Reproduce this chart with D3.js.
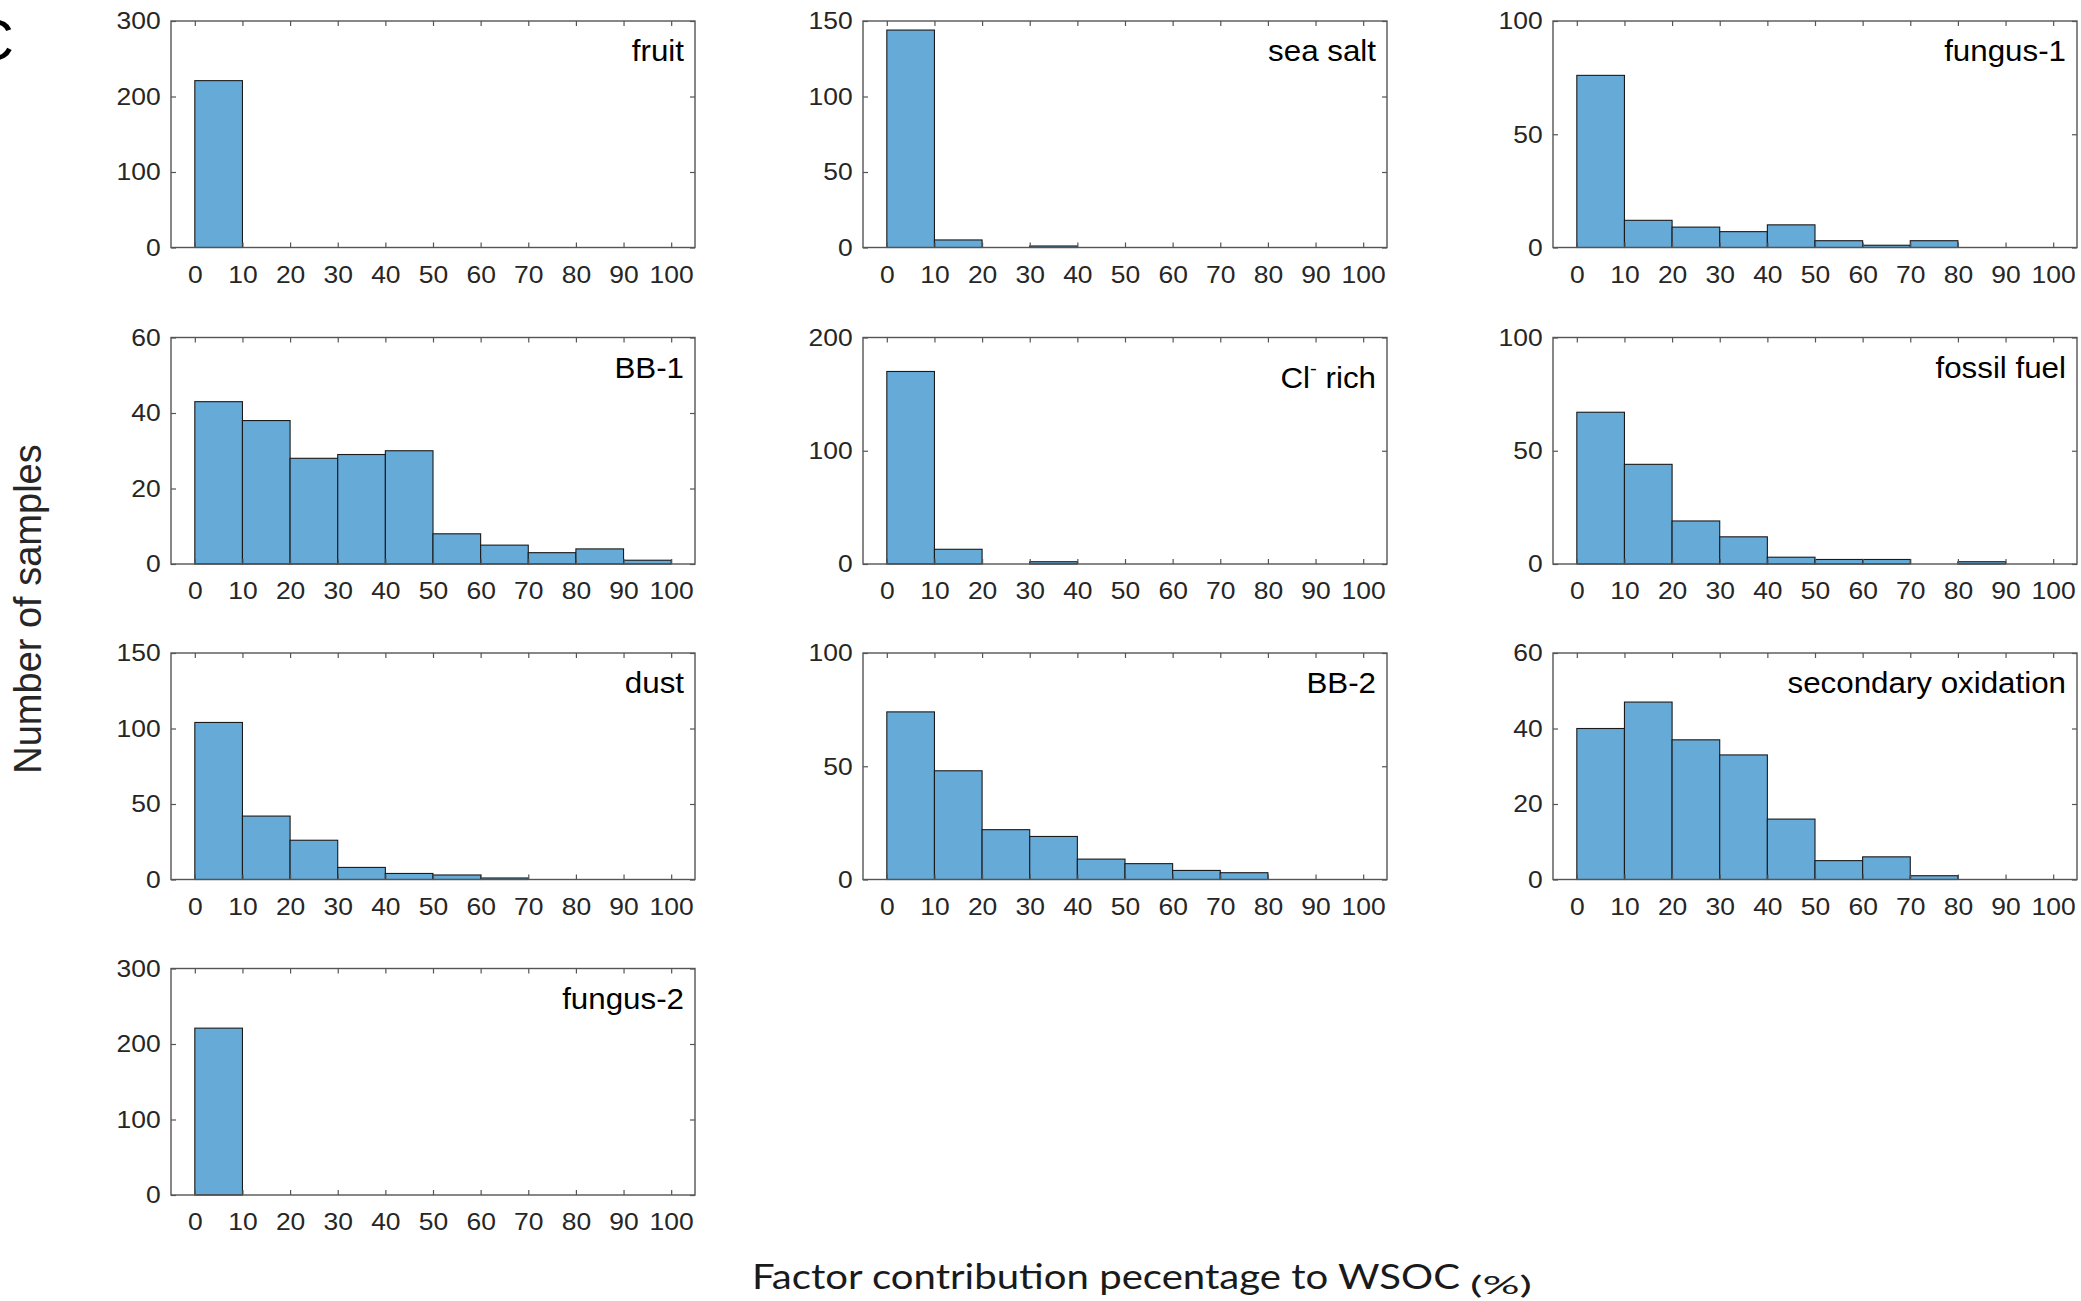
<!DOCTYPE html>
<html>
<head>
<meta charset="utf-8">
<script src="https://cdn.jsdelivr.net/npm/d3@7"></script>
<style>
  html, body { margin: 0; padding: 0; background: #fff; }
  svg { display: block; }
</style>
</head>
<body>
<div id="chart"></div>
<script>
// bin edges of every histogram (% of WSOC)
var binEdges = [0, 10, 20, 30, 40, 50, 60, 70, 80, 90, 100];
var xTickLabels = [0, 10, 20, 30, 40, 50, 60, 70, 80, 90, 100];

// sample counts per bin
var fruit      = [221, 0, 0, 0, 0, 0, 0, 0, 0, 0];
var seaSalt    = [144, 5, 0, 1, 0, 0, 0, 0, 0, 0];
var fungus1    = [76, 12, 9, 7, 10, 3, 1, 3, 0, 0];
var bb1        = [43, 38, 28, 29, 30, 8, 5, 3, 4, 1];
var clRich     = [170, 13, 0, 2, 0, 0, 0, 0, 0, 0];
var fossilFuel = [67, 44, 19, 12, 3, 2, 2, 0, 1, 0];
var dust       = [104, 42, 26, 8, 4, 3, 1, 0, 0, 0];
var bb2        = [74, 48, 22, 19, 9, 7, 4, 3, 0, 0];
var secOx      = [40, 47, 37, 33, 16, 5, 6, 1, 0, 0];
var fungus2    = [221, 0, 0, 0, 0, 0, 0, 0, 0, 0];

var panelNames = ["fruit", "sea salt", "fungus-1", "BB-1", "Cl- rich", "fossil fuel",
                  "dust", "BB-2", "secondary oxidation", "fungus-2"];
var panelCounts = [fruit, seaSalt, fungus1, bb1, clRich, fossilFuel, dust, bb2, secOx, fungus2];
var panelYMax = [300, 150, 100, 60, 200, 100, 150, 100, 60, 300];
var panelYStep = [100, 50, 50, 20, 100, 50, 50, 50, 20, 100];

var W = 2081, H = 1301;
var colLeft = [171, 863, 1553];
var rowTop = [21, 337.5, 653, 968.5];
var pw = 524, ph = 226.5;
var sx = 1.08;                // the source figure is slightly stretched sideways
var barFill = "#66aad7";
var axisCol = "#262626";
var font = "'Liberation Sans', Arial, Helvetica, sans-serif";

var svg = d3.select("#chart").append("svg")
  .attr("width", W)
  .attr("height", H);

// panel letter, partly cut off at the left edge (as in the source)
svg.append("text")
  .attr("x", -28).attr("y", 60)
  .style("font-family", font).style("font-size", "58px")
  .attr("fill", "#000")
  .text("C");

var x = d3.scaleLinear().domain([-5, 105]).range([0, pw]);

panelCounts.forEach(function (counts, i) {
  var col = i % 3, row = Math.floor(i / 3);
  var g = svg.append("g")
    .attr("transform", "translate(" + colLeft[col] + "," + rowTop[row] + ")");

  var y = d3.scaleLinear().domain([0, panelYMax[i]]).range([ph, 0]);
  var yTicks = d3.range(0, panelYMax[i] + 1, panelYStep[i]);

  var bins = counts.map(function (c, k) {
    return { x0: binEdges[k], x1: binEdges[k + 1], n: c };
  }).filter(function (d) { return d.n > 0; });

  g.selectAll("rect.bar")
    .data(bins)
    .enter()
    .append("rect")
    .attr("class", "bar")
    .attr("x", function (d) { return x(d.x0); })
    .attr("y", function (d) { return y(d.n); })
    .attr("width", function (d) { return x(d.x1) - x(d.x0); })
    .attr("height", function (d) { return ph - y(d.n); })
    .attr("fill", barFill)
    .attr("stroke", "#1a1a1a")
    .attr("stroke-width", 1.1);

  // box
  g.append("rect")
    .attr("width", pw).attr("height", ph)
    .attr("fill", "none")
    .attr("stroke", "#555")
    .attr("stroke-width", 1.4);

  var bottom = g.append("g")
    .attr("transform", "translate(0," + ph + ")")
    .call(d3.axisBottom(x).tickValues(xTickLabels).tickSize(-5).tickPadding(18));
  var top = g.append("g")
    .call(d3.axisTop(x).tickValues(xTickLabels).tickSize(-5).tickFormat(""));
  var left = g.append("g")
    .call(d3.axisLeft(y).tickValues(yTicks).tickSize(-5).tickPadding(9.5));
  var right = g.append("g")
    .attr("transform", "translate(" + pw + ",0)")
    .call(d3.axisRight(y).tickValues(yTicks).tickSize(-5).tickFormat(""));

  [bottom, top, left, right].forEach(function (a) {
    a.select(".domain").remove();
    a.selectAll(".tick line").attr("stroke", "#555").attr("stroke-width", 1.2);
    a.selectAll(".tick text")
      .attr("fill", axisCol)
      .attr("transform", "scale(" + sx + ",1)")
      .style("font-family", font)
      .style("font-size", "24.5px");
  });

  // factor name, top right
  var label = g.append("text")
    .attr("text-anchor", "end")
    .attr("transform", "translate(" + (pw - 11) + "," + (i === 4 ? 50 : 40) + ") scale(" + sx + ",1)")
    .style("font-family", font)
    .style("font-size", "29px")
    .attr("fill", "#000");
  if (i === 4) {
    label.append("tspan").text("Cl");
    label.append("tspan").attr("dy", -13).style("font-size", "19px").text("-");
    label.append("tspan").attr("dy", 13).text(" rich");
  } else {
    label.text(panelNames[i]);
  }
});

// y axis title
svg.append("text")
  .attr("transform", "translate(41,609) rotate(-90)")
  .attr("text-anchor", "middle")
  .style("font-family", font)
  .style("font-size", "38px")
  .attr("fill", axisCol)
  .text("Number of samples");

// x axis title (set in a different, narrower face in the source)
svg.append("text")
  .attr("x", 752).attr("y", 1289)
  .attr("textLength", 708)
  .attr("lengthAdjust", "spacingAndGlyphs")
  .style("font-family", "Lato, 'Open Sans', sans-serif")
  .style("font-size", "35px")
  .attr("fill", "#1a1a1a")
  .text("Factor contribution pecentage to WSOC");
svg.append("text")
  .attr("x", 1470).attr("y", 1294)
  .attr("textLength", 62)
  .attr("lengthAdjust", "spacingAndGlyphs")
  .style("font-family", "Lato, 'Open Sans', sans-serif")
  .style("font-size", "25px")
  .attr("fill", "#1a1a1a")
  .text("(%)");
</script>
</body>
</html>
